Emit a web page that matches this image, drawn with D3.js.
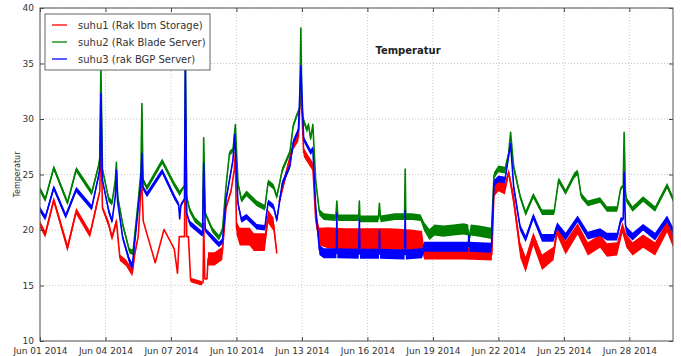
<!DOCTYPE html>
<html>
<head>
<meta charset="utf-8">
<script src="https://cdn.jsdelivr.net/npm/d3@7"></script>
<style>
  body { margin: 0; background: #fff; }
  text { font-family: "DejaVu Sans", sans-serif; }
</style>
</head>
<body>
<div id="chart"></div>
<script>
// [day offset from Jun 01, temperature, half height of noise band]
const suhu1 = [
  [0, 20.5, 0.3], [0.24, 19.6, 0.3], [0.63, 22.7, 0.3], [1.26, 18.4, 0.35], [1.66, 21.7, 0.3],
  [2.29, 19.6, 0.3], [2.6, 22.3, 0.3], [2.74, 23.5, 0.2], [2.79, 29.5, 0], [2.86, 22, 0.2],
  [3.15, 20.5, 0.3], [3.3, 19.3, 0.3], [3.5, 20.8, 0.3], [3.66, 17.5, 0.3], [3.94, 17.05, 0.3],
  [4.23, 16.15, 0.35], [4.34, 17.8, 0.2], [4.5, 19.45, 0.2], [4.57, 21.7, 0.1], [4.65, 25, 0],
  [4.73, 20.8, 0], [5.28, 17.05, 0], [5.68, 20.05, 0], [6.15, 18.3, 0], [6.3, 16.1, 0],
  [6.38, 19.4, 0], [6.62, 19.4, 0], [6.66, 30.4, 0], [6.72, 19.4, 0], [6.8, 19.4, 0],
  [6.9, 15.5, 0.2], [7.4, 15.2, 0.2], [7.47, 15.3, 0], [7.5, 20.6, 0], [7.55, 15.6, 0],
  [7.65, 15.6, 0], [7.7, 17.4, 0.6], [8.0, 17.4, 0.6], [8.35, 17.9, 0.6], [8.52, 22.0, 0.2],
  [8.75, 23.5, 0.2], [8.9, 25.4, 0.1], [8.95, 27, 0], [9.0, 20.2, 0.6], [9.15, 19.4, 0.8],
  [9.6, 19.4, 0.8], [9.8, 18.9, 0.8], [10.3, 18.9, 0.8], [10.45, 21.2, 0.6], [10.7, 20.5, 0.6],
  [10.85, 17.9, 0.2],
  [10.9, null, 0],
  [10.95, 22.5, 0.3], [11.2, 24.5, 0.4], [11.6, 27.6, 0.4], [11.84, 28.4, 0.4], [11.95, 33.0, 0],
  [12.08, 27.0, 0.4], [12.4, 26.0, 0.4], [12.5, 25.7, 0.4], [12.63, 21.0, 0.5], [12.8, 19.4, 0.8],
  [13.2, 19.3, 0.95], [14.0, 19.2, 0.95], [15.0, 19.2, 0.95], [16.0, 19.2, 0.95], [17.0, 19.1, 0.95],
  [17.5, 19.0, 0.9], [17.6, 17.9, 0.55], [18.5, 17.9, 0.55], [19.5, 17.9, 0.55], [20.7, 17.8, 0.55],
  [20.8, 23.5, 0.5], [21.0, 24.0, 0.5], [21.3, 23.7, 0.5], [21.47, 25.2, 0.3], [21.7, 22.7, 0.6],
  [22.0, 18.2, 0.7], [22.25, 16.9, 0.7], [22.6, 19.2, 0.6], [23.0, 17.1, 0.7], [23.53, 17.9, 0.6],
  [23.69, 20.0, 0.5], [24.08, 18.4, 0.6], [24.63, 20.1, 0.5], [25.1, 18.3, 0.6], [25.66, 19.0, 0.6],
  [25.97, 18.2, 0.6], [26.44, 18.3, 0.6], [26.68, 20.2, 0.5], [26.87, 19.0, 0.6], [27.15, 18.3, 0.6],
  [27.63, 19.0, 0.6], [28.18, 18.3, 0.6], [28.73, 20.3, 0.5], [29.13, 18.4, 0.6], [29.68, 21.5, 0.5],
  [30.0, 19.7, 0.5]
];

const suhu2 = [
  [0, 23.65, 0.25], [0.24, 22.75, 0.25], [0.63, 25.6, 0.25], [1.26, 22.45, 0.25], [1.66, 25.45, 0.25],
  [2.37, 23.35, 0.25], [2.68, 25.75, 0.25], [2.74, 26.5, 0.1], [2.79, 34.9, 0], [2.86, 25.5, 0.1],
  [3.15, 22.75, 0.25], [3.3, 22.45, 0.25], [3.45, 24.5, 0.1], [3.5, 26.1, 0], [3.56, 23, 0.1],
  [3.79, 20.5, 0.25], [4.1, 18.1, 0.25], [4.26, 18.0, 0.25], [4.5, 22.6, 0.25], [4.62, 25.2, 0.2],
  [4.67, 31.4, 0], [4.72, 24.5, 0.2], [4.9, 23.8, 0.25], [5.6, 26.2, 0.25], [6.15, 24.1, 0.25],
  [6.4, 23.3, 0.25], [6.62, 24, 0.1], [6.66, 35.5, 0], [6.72, 23, 0.1], [6.86, 21.8, 0.25],
  [7.1, 20.9, 0.25], [7.45, 20.3, 0.2], [7.5, 28.3, 0], [7.57, 21.5, 0.2], [7.9, 20.0, 0.25],
  [8.2, 19.3, 0.25], [8.36, 20.0, 0.25], [8.52, 23.9, 0.25], [8.68, 26.9, 0.25], [8.84, 27.2, 0.2],
  [8.95, 29.5, 0], [9.07, 24.2, 0.25], [9.23, 22.7, 0.25], [9.46, 23.3, 0.25], [9.93, 22.4, 0.25],
  [10.3, 22.0, 0.25], [10.45, 24.3, 0.25], [10.7, 23.9, 0.25], [10.85, 23.0, 0.25], [11.1, 25.4, 0.25],
  [11.45, 27.0, 0.25], [11.6, 29.4, 0.25], [11.76, 30.3, 0.25], [11.9, 31, 0.1], [11.95, 38.2, 0],
  [12.0, 31, 0.1], [12.05, 30.0, 0.25], [12.23, 29.0, 0.25], [12.3, 29.5, 0.2], [12.4, 28.2, 0.2],
  [12.5, 29.5, 0.2], [12.63, 24.5, 0.25], [12.8, 21.6, 0.3], [13.0, 21.2, 0.3], [13.55, 21.1, 0.3],
  [13.6, 22.6, 0], [13.65, 21.1, 0.3], [14.6, 21.1, 0.3], [14.63, 22.6, 0], [14.66, 21.0, 0.3],
  [15.5, 21.0, 0.3], [15.55, 22.4, 0], [15.6, 21.0, 0.3], [16.26, 21.2, 0.3], [16.7, 21.2, 0.3],
  [16.73, 25.5, 0], [16.76, 21.2, 0.3], [17.05, 21.2, 0.3], [17.44, 21.1, 0.3], [17.6, 20.3, 0.4],
  [17.84, 19.6, 0.5], [18.08, 20.0, 0.5], [18.47, 19.9, 0.5], [18.94, 20.0, 0.5], [19.42, 20.1, 0.5],
  [19.62, 20.0, 0.5], [19.65, 19.0, 0.3], [19.73, 20.0, 0.5], [20.13, 19.9, 0.5], [20.68, 19.7, 0.5],
  [20.8, 24.9, 0.3], [21.0, 25.5, 0.3], [21.3, 25.4, 0.3], [21.47, 26.9, 0.2], [21.56, 28.8, 0],
  [21.7, 25.7, 0.3], [22.0, 23.0, 0.25], [22.25, 21.5, 0.25], [22.6, 23.1, 0.25], [23.0, 21.6, 0.25],
  [23.55, 21.6, 0.25], [23.76, 24.5, 0.25], [24.08, 23.4, 0.25], [24.47, 24.9, 0.25], [24.63, 25.2, 0.25],
  [24.79, 23.1, 0.25], [25.1, 22.4, 0.25], [25.66, 22.7, 0.25], [25.97, 21.9, 0.25], [26.44, 21.9, 0.25],
  [26.6, 23.7, 0.2], [26.72, 24, 0.1], [26.76, 28.8, 0], [26.82, 23.5, 0.1], [26.87, 22.7, 0.25],
  [27.15, 21.9, 0.25], [27.63, 22.8, 0.25], [28.18, 21.9, 0.25], [28.73, 24.0, 0.25], [29.13, 22.2, 0.25],
  [29.68, 25.1, 0.25], [30.0, 23.9, 0.25]
];

const suhu3 = [
  [0, 21.85, 0.25], [0.24, 21.1, 0.25], [0.63, 23.8, 0.25], [1.18, 21.25, 0.25], [1.66, 23.65, 0.25],
  [2.37, 22.0, 0.25], [2.68, 24.85, 0.25], [2.74, 25.5, 0.1], [2.79, 32.3, 0], [2.86, 24.5, 0.1],
  [3.15, 21.7, 0.25], [3.3, 20.8, 0.25], [3.45, 23.0, 0.1], [3.5, 25.4, 0], [3.56, 22.5, 0.1],
  [3.79, 19.3, 0.25], [4.1, 17.2, 0.3], [4.23, 16.75, 0.3], [4.5, 22.0, 0.25], [4.62, 24.3, 0.2],
  [4.67, 26.9, 0], [4.72, 23.8, 0.2], [4.9, 23.2, 0.25], [5.6, 25.3, 0.25], [6.15, 23.0, 0.25],
  [6.35, 22.3, 0.2], [6.4, 21.0, 0.1], [6.45, 22.2, 0.2], [6.62, 22.8, 0.1], [6.66, 35.0, 0],
  [6.72, 21.5, 0.1], [6.86, 20.6, 0.25], [7.4, 19.7, 0.25], [7.45, 19.6, 0.2], [7.5, 26.0, 0],
  [7.57, 20.0, 0.2], [7.9, 19.3, 0.25], [8.2, 18.7, 0.25], [8.36, 19.0, 0.25], [8.52, 22.7, 0.25],
  [8.84, 26.3, 0.2], [8.92, 28.6, 0], [9.07, 22.4, 0.25], [9.23, 20.9, 0.25], [9.46, 21.2, 0.25],
  [9.93, 20.3, 0.25], [10.3, 20.2, 0.25], [10.45, 22.5, 0.25], [10.7, 22.1, 0.25], [10.85, 20.9, 0.25],
  [11.1, 24.2, 0.25], [11.45, 25.75, 0.25], [11.6, 27.9, 0.25], [11.84, 29.0, 0.25], [11.95, 34.8, 0],
  [12.08, 28.2, 0.25], [12.4, 27.0, 0.25], [12.5, 27.3, 0.25], [12.63, 22.1, 0.3], [12.8, 18.2, 0.45],
  [13.0, 17.9, 0.45], [13.58, 17.9, 0.45], [13.6, 21.5, 0], [13.62, 17.9, 0.45], [14.6, 17.85, 0.45],
  [14.63, 21, 0], [14.66, 17.85, 0.45], [15.53, 17.85, 0.45], [15.55, 20, 0], [15.58, 17.85, 0.45],
  [16.7, 17.8, 0.45], [16.73, 21.75, 0], [16.76, 17.8, 0.45], [17.5, 17.9, 0.45], [17.6, 18.5, 0.45],
  [19.62, 18.5, 0.45], [19.65, 19.5, 0], [19.68, 18.5, 0.45], [20.68, 18.4, 0.45], [20.8, 24.2, 0.3],
  [21.0, 24.6, 0.3], [21.3, 24.5, 0.3], [21.56, 27.8, 0], [21.7, 23.9, 0.3], [22.0, 20.2, 0.3],
  [22.25, 19.2, 0.3], [22.6, 21.2, 0.3], [23.0, 19.3, 0.35], [23.53, 19.3, 0.35], [23.69, 20.4, 0.3],
  [24.08, 19.4, 0.35], [24.63, 21.0, 0.3], [25.1, 19.5, 0.35], [25.66, 19.8, 0.35], [25.97, 19.4, 0.35],
  [26.44, 19.4, 0.35], [26.6, 20.85, 0.3], [26.72, 21, 0.1], [26.76, 25.2, 0], [26.82, 20.5, 0.1],
  [26.87, 19.95, 0.35], [27.15, 19.4, 0.35], [27.63, 20.25, 0.3], [28.18, 19.4, 0.35], [28.73, 21.0, 0.3],
  [29.13, 19.4, 0.35], [29.68, 22.2, 0.3], [30.0, 20.25, 0.3]
];

const seriesNames = ["suhu1 (Rak Ibm Storage)", "suhu2 (Rak Blade Server)", "suhu3 (rak BGP Server)"];
const seriesColors = ["#ff0000", "#008000", "#0000ff"];
const xTickLabels = ["Jun 01 2014", "Jun 04 2014", "Jun 07 2014", "Jun 10 2014", "Jun 13 2014",
  "Jun 16 2014", "Jun 19 2014", "Jun 22 2014", "Jun 25 2014", "Jun 28 2014"];
const yTicks = [10, 15, 20, 25, 30, 35, 40];

let width = 681, height = 356;
let pLeft = 40, pRight = 673, pTop = 8, pBottom = 341;

let parse = d3.timeParse("%b %d %Y");
let start = parse("Jun 01 2014");
let toDate = d => d3.timeMinute.offset(start, Math.round(d * 1440));

let xScale = d3.scaleTime()
    .domain([start, parse("Jun 30 2014")])
    .range([pLeft, pRight]);
let yScale = d3.scaleLinear()
    .domain([10, 40])
    .range([pBottom, pTop]);

let svg = d3.select("#chart")
    .append("svg")
    .attr("width", width)
    .attr("height", height);

// grid
svg.append("g")
    .selectAll("line")
    .data(xTickLabels.map(parse))
    .enter()
    .append("line")
    .attr("x1", d => xScale(d)).attr("x2", d => xScale(d))
    .attr("y1", pTop).attr("y2", pBottom)
    .attr("stroke", "#c8c8c8")
    .attr("stroke-dasharray", "1,2");
svg.append("g")
    .selectAll("line")
    .data(yTicks)
    .enter()
    .append("line")
    .attr("x1", pLeft).attr("x2", pRight)
    .attr("y1", d => yScale(d)).attr("y2", d => yScale(d))
    .attr("stroke", "#c8c8c8")
    .attr("stroke-dasharray", "1,2");

svg.append("clipPath").attr("id", "plot-clip")
    .append("rect")
    .attr("x", pLeft).attr("y", pTop)
    .attr("width", pRight - pLeft).attr("height", pBottom - pTop);

let plot = svg.append("g").attr("clip-path", "url(#plot-clip)");

let band = d3.area()
    .defined(d => d[1] != null)
    .x(d => xScale(toDate(d[0])))
    .y0(d => yScale(d[1] - d[2]))
    .y1(d => yScale(d[1] + d[2]));
let line = d3.line()
    .defined(d => d[1] != null)
    .x(d => xScale(toDate(d[0])))
    .y(d => yScale(d[1]));

[suhu1, suhu2, suhu3].forEach((data, i) => {
    plot.append("path")
        .attr("d", band(data))
        .attr("fill", seriesColors[i]);
    plot.append("path")
        .attr("d", line(data))
        .attr("fill", "none")
        .attr("stroke", seriesColors[i])
        .attr("stroke-width", 1.6)
        .attr("stroke-linejoin", "round");
});

// axes
let xAxis = d3.axisBottom(xScale)
    .tickValues(xTickLabels.map(parse))
    .tickFormat(d3.timeFormat("%b %d %Y"))
    .tickSizeInner(-4)
    .tickSizeOuter(0)
    .tickPadding(7);
svg.append("g")
    .attr("transform", "translate(0," + pBottom + ")")
    .call(xAxis);

let yAxis = d3.axisLeft(yScale)
    .tickValues(yTicks)
    .tickSizeInner(-4)
    .tickSizeOuter(0)
    .tickPadding(6);
svg.append("g")
    .attr("transform", "translate(" + pLeft + ",0)")
    .call(yAxis);

svg.append("g")
    .attr("transform", "translate(0," + pTop + ")")
    .call(d3.axisTop(xScale).tickValues(xTickLabels.map(parse)).tickSizeInner(-4).tickSizeOuter(0).tickFormat(""));
svg.append("g")
    .attr("transform", "translate(" + pRight + ",0)")
    .call(d3.axisRight(yScale).tickValues(yTicks).tickSizeInner(-4).tickSizeOuter(0).tickFormat(""));

svg.selectAll(".domain").remove();
svg.selectAll(".tick line").attr("stroke", "#444");
svg.selectAll(".tick text")
    .attr("font-family", "DejaVu Sans")
    .attr("font-size", "9px")
    .attr("fill", "#333");

// frame
svg.append("rect")
    .attr("x", pLeft).attr("y", pTop)
    .attr("width", pRight - pLeft).attr("height", pBottom - pTop)
    .attr("fill", "none")
    .attr("stroke", "#555")
    .attr("stroke-width", 1);

// titles
svg.append("text")
    .text("Temperatur")
    .attr("x", 408).attr("y", 54)
    .attr("text-anchor", "middle")
    .attr("font-size", "10px")
    .attr("font-weight", "bold")
    .attr("fill", "#222");
svg.append("text")
    .text("Temperatur")
    .attr("transform", "translate(20," + ((pTop + pBottom) / 2) + ") rotate(-90)")
    .attr("text-anchor", "middle")
    .attr("font-size", "8px")
    .attr("fill", "#333");

// legend
let legend = svg.append("g").attr("transform", "translate(45,14)");
legend.append("rect")
    .attr("width", 165).attr("height", 56)
    .attr("fill", "#fff")
    .attr("stroke", "#666");
seriesNames.forEach((name, i) => {
    let ly = 11 + i * 17;
    legend.append("line")
        .attr("x1", 7).attr("x2", 22)
        .attr("y1", ly).attr("y2", ly)
        .attr("stroke", seriesColors[i])
        .attr("stroke-width", 1.3);
    legend.append("text")
        .text(name)
        .attr("x", 33).attr("y", ly + 3.5)
        .attr("font-size", "10px")
        .attr("fill", "#333");
});
</script>
</body>
</html>
